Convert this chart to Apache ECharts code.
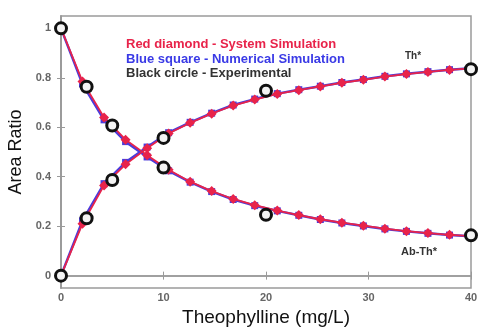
<!DOCTYPE html>
<html>
<head>
<meta charset="utf-8">
<script src="https://cdn.jsdelivr.net/npm/echarts@6/dist/echarts.min.js"></script>
<style>
  html, body { margin: 0; padding: 0; background: #fff; }
  #chart { width: 481px; height: 327px; }
</style>
</head>
<body>
<div id="chart"></div>
<script>
// simulation grid (mg/L)
const xSim = [0, 2.1, 4.2, 6.3, 8.4, 10.5, 12.6, 14.7, 16.8, 18.9, 21.1, 23.2, 25.3, 27.4, 29.5, 31.6, 33.7, 35.8, 37.9, 40]
// red diamond - system simulation
const thSys = [0, 0.21, 0.365, 0.45, 0.515, 0.575, 0.618, 0.655, 0.688, 0.712, 0.735, 0.75, 0.765, 0.78, 0.792, 0.805, 0.815, 0.824, 0.832, 0.838]
const abSys = [1.0, 0.785, 0.64, 0.55, 0.487, 0.428, 0.38, 0.342, 0.31, 0.285, 0.263, 0.245, 0.228, 0.214, 0.202, 0.19, 0.18, 0.172, 0.165, 0.16]
// blue square - numerical simulation
const thNum = [0, 0.222, 0.372, 0.458, 0.52, 0.578, 0.62, 0.657, 0.69, 0.714, 0.736, 0.752, 0.766, 0.781, 0.793, 0.806, 0.816, 0.825, 0.833, 0.839]
const abNum = [1.0, 0.775, 0.63, 0.542, 0.48, 0.424, 0.378, 0.34, 0.308, 0.283, 0.262, 0.244, 0.227, 0.213, 0.201, 0.189, 0.179, 0.171, 0.164, 0.159]
// black circle - experimental
const xExp = [0, 2.5, 5, 10, 20, 40]
const thExp = [0, 0.232, 0.387, 0.557, 0.748, 0.835]
const abExp = [1.0, 0.764, 0.607, 0.437, 0.246, 0.163]

const xTicks = [0, 10, 20, 30, 40]
const yTicks = [0, 0.2, 0.4, 0.6, 0.8, 1]

const pairs = (xs, ys) => xs.map((x, i) => [x, ys[i]])

const RED = '#e8234a'
const BLUE = '#4a3cdc'
const FRAME = '#9a9a9a'
const FONT = 'Liberation Sans, Arial'

const chart = echarts.init(document.getElementById('chart'))

const tickLabel = { fontFamily: FONT, fontWeight: 'bold', fontSize: 11, color: '#666' }

const simLine = (name, data, color, symbol, size, width, z) => ({
  name,
  type: 'line',
  data,
  symbol,
  symbolSize: size,
  z,
  lineStyle: { color, width },
  itemStyle: { color },
  animation: false,
})

const expPts = (data) => ({
  name: 'Experimental',
  type: 'line',
  data,
  symbol: 'circle',
  symbolSize: 11,
  z: 10,
  lineStyle: { width: 0, opacity: 0 },
  itemStyle: { color: '#f4f4f4', borderColor: '#111', borderWidth: 3 },
  animation: false,
})

const option = {
  backgroundColor: '#fff',
  grid: {
    left: 61, right: 10, top: 16, bottom: 39,
    outerBoundsMode: 'none',
    show: true, borderColor: FRAME, borderWidth: 1.5,
  },
  xAxis: [
    {
      type: 'value',
      min: 0,
      max: 40,
      interval: 10,
      name: 'Theophylline (mg/L)',
      nameLocation: 'middle',
      nameGap: 15,
      nameTextStyle: { fontFamily: FONT, fontSize: 19, color: '#111' },
      axisLine: { lineStyle: { color: FRAME, width: 1.5 } },
      axisTick: { inside: true, length: 4, lineStyle: { color: FRAME } },
      axisLabel: Object.assign({ margin: 4, customValues: xTicks }, tickLabel),
      splitLine: { show: false },
    },
    {
      type: 'value',
      position: 'top',
      min: 0,
      max: 40,
      interval: 10,
      axisLine: { lineStyle: { color: FRAME, width: 1.5 } },
      axisTick: { inside: true, length: 4, lineStyle: { color: FRAME } },
      axisLabel: { show: false },
      splitLine: { show: false },
    },
  ],
  yAxis: [
    {
      type: 'value',
      min: -0.05,
      max: 1.05,
      name: 'Area Ratio',
      nameLocation: 'middle',
      nameGap: 27,
      nameTextStyle: { fontFamily: FONT, fontSize: 18, color: '#111' },
      axisLine: { show: true, lineStyle: { color: FRAME, width: 1.5 } },
      axisTick: { show: true, inside: true, length: 4, customValues: yTicks, lineStyle: { color: FRAME } },
      axisLabel: Object.assign({ margin: 10, customValues: yTicks }, tickLabel),
      splitLine: { show: false },
    },
    {
      type: 'value',
      position: 'right',
      min: -0.05,
      max: 1.05,
      axisLine: { show: true, lineStyle: { color: FRAME, width: 1.5 } },
      axisTick: { show: true, inside: true, length: 4, customValues: yTicks, lineStyle: { color: FRAME } },
      axisLabel: { show: false },
      splitLine: { show: false },
    },
  ],
  graphic: [
    { type: 'text', left: 126, top: 38, style: { text: 'Red diamond - System Simulation', fill: RED, font: 'bold 13px ' + FONT } },
    { type: 'text', left: 126, top: 53, style: { text: 'Blue square - Numerical Simulation', fill: '#3a3ae6', font: 'bold 13px ' + FONT } },
    { type: 'text', left: 126, top: 67, style: { text: 'Black circle - Experimental', fill: '#333', font: 'bold 13px ' + FONT } },
    { type: 'text', left: 405, top: 51, style: { text: 'Th*', fill: '#333', font: 'bold 10px ' + FONT } },
    { type: 'text', left: 401, top: 246, style: { text: 'Ab-Th*', fill: '#333', font: 'bold 11px ' + FONT } },
  ],
  series: [
    simLine('Numerical Simulation', pairs(xSim, thNum), BLUE, 'rect', 7, 2.5, 2),
    simLine('Numerical Simulation', pairs(xSim, abNum), BLUE, 'rect', 7, 2.5, 2),
    simLine('System Simulation', pairs(xSim, thSys), RED, 'diamond', 10, 1.8, 3),
    simLine('System Simulation', pairs(xSim, abSys), RED, 'diamond', 10, 1.8, 3),
    expPts(pairs(xExp, thExp)),
    expPts(pairs(xExp, abExp)),
  ],
}

chart.setOption(option)
</script>
</body>
</html>
